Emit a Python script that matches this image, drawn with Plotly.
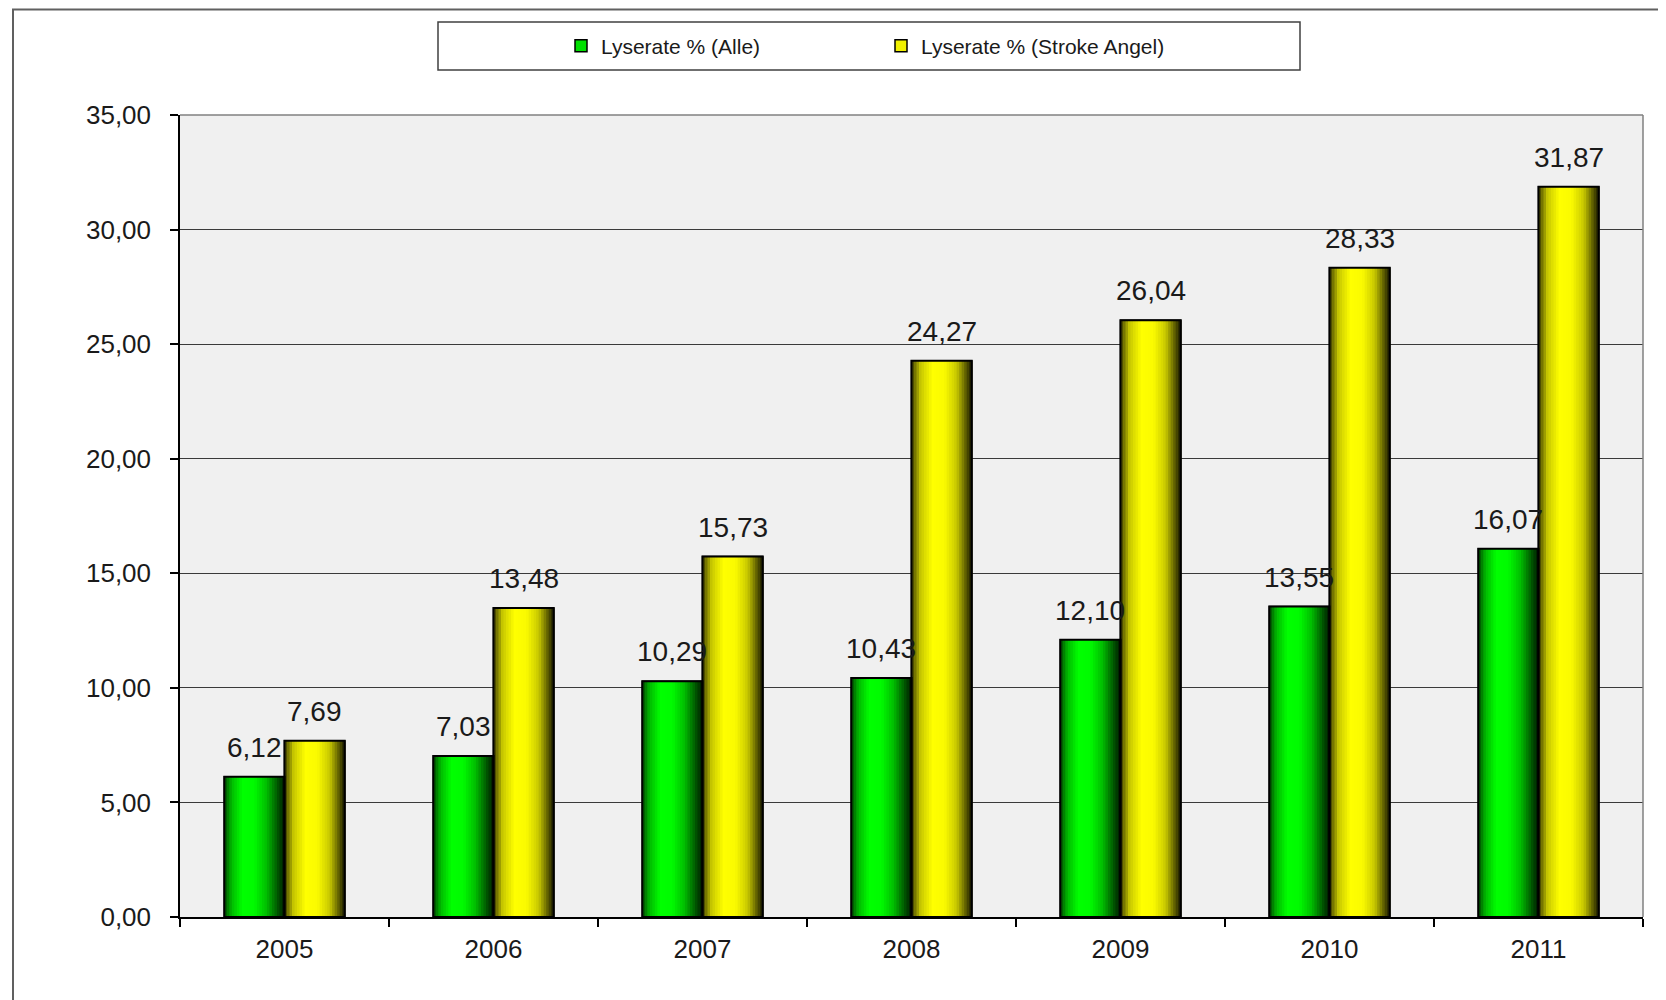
import plotly.graph_objects as go

years = ["2005", "2006", "2007", "2008", "2009", "2010", "2011"]
alle = [6.12, 7.03, 10.29, 10.43, 12.10, 13.55, 16.07]
stroke_angel = [7.69, 13.48, 15.73, 24.27, 26.04, 28.33, 31.87]

name_alle = "Lyserate % (Alle)"
name_sa = "Lyserate % (Stroke Angel)"

OFF = 8  # page body margin
W, H = 1666 - OFF, 1000 - OFF
# plot area in screen pixels: x 180..1643, y 115..917
SL, SR, ST, SB = 180, 1643, 115, 917
L, T = SL - OFF, ST - OFF
R, B = W - (SR - OFF), H - (SB - OFF)
PW, PH = SR - SL, SB - ST


def px_x(p):
    return (p - SL) / PW


def px_y(p):
    return (SB - p) / PH


def interp(stops, t):
    for (t0, c0), (t1, c1) in zip(stops, stops[1:]):
        if t0 <= t <= t1:
            f = (t - t0) / (t1 - t0) if t1 > t0 else 0
            c = [round(a + (b - a) * f) for a, b in zip(c0, c1)]
            return "rgb(%d,%d,%d)" % tuple(c)
    return "rgb(%d,%d,%d)" % tuple(stops[-1][1])


green_stops = [(0.0, (0, 70, 0)), (0.12, (0, 185, 0)), (0.3, (0, 255, 0)),
               (0.5, (0, 250, 0)), (0.7, (0, 190, 0)), (0.87, (0, 95, 0)), (1.0, (0, 25, 0))]
yellow_stops = [(0.0, (60, 60, 0)), (0.15, (200, 200, 0)), (0.35, (255, 255, 0)),
                (0.55, (250, 250, 0)), (0.75, (200, 200, 0)), (0.9, (95, 95, 0)), (1.0, (25, 25, 0))]

bw = 0.288
bar_px = bw * PW / len(years)
series = [
    (name_alle, alle, -bw, green_stops, "#00E000"),
    (name_sa, stroke_angel, 0.0, yellow_stops, "#F0F000"),
]

fig = go.Figure()
N = 24
for name, vals, off, stops, legcol in series:
    # legend proxy / base bar
    fig.add_trace(go.Bar(x=years, y=vals, name=name, offset=off, width=bw,
                         marker=dict(color=legcol, line=dict(color="black", width=1.5)),
                         showlegend=True, hoverinfo="skip"))
    # gradient strips
    for i in range(N):
        t = (i + 0.5) / N
        fig.add_trace(go.Bar(x=years, y=vals, offset=off + i * bw / N, width=bw / N * 1.3,
                             marker=dict(color=interp(stops, t), line=dict(width=0)),
                             showlegend=False, hoverinfo="skip"))

for name, vals, off, stops, legcol in series:
    # outline
    fig.add_trace(go.Bar(x=years, y=vals, name=name, offset=off, width=bw,
                         marker=dict(color="rgba(0,0,0,0)", line=dict(color="black", width=2)),
                         hovertemplate="%{x}: %{y:.2f}<extra>" + name + "</extra>",
                         showlegend=False))
    # value labels
    side = -1 if off < 0 else 1
    for idx, v in enumerate(vals):
        fig.add_annotation(x=idx, y=v, xref="x", yref="y", text=f"{v:.2f}".replace(".", ","),
                           showarrow=False, xanchor="center", yanchor="bottom",
                           xshift=side * bar_px / 2, yshift=12,
                           font=dict(size=28, color="#1a1a1a"))

fig.update_layout(
    width=W, height=H,
    margin=dict(l=L, r=R, t=T, b=B),
    barmode="overlay",
    separators=",.",
    paper_bgcolor="white",
    plot_bgcolor="#F0F0F0",
    font=dict(family="Liberation Sans, Arial, sans-serif", color="#1a1a1a"),
    showlegend=True,
    legend=dict(orientation="h", x=px_x(561), xanchor="left", y=px_y(46), yanchor="middle",
                font=dict(size=21, color="#1a1a1a"), bgcolor="rgba(0,0,0,0)",
                entrywidth=275, entrywidthmode="pixels", itemwidth=30,
                traceorder="normal"),
    xaxis=dict(type="category", range=[-0.5, 6.5], showgrid=False,
               showline=True, linecolor="black", linewidth=1.5,
               ticks="outside", tickson="boundaries", ticklen=8, tickcolor="black", tickwidth=1.5,
               tickfont=dict(size=26, color="#1a1a1a"), ticklabelstandoff=8),
    yaxis=dict(range=[0, 35], dtick=5, tickformat=".2f",
               showgrid=True, gridcolor="#3a3a3a", gridwidth=1, zeroline=False,
               showline=True, linecolor="black", linewidth=1.5,
               ticks="outside", ticklen=8, tickcolor="black", tickwidth=1.5,
               tickfont=dict(size=26, color="#1a1a1a"), ticklabelstandoff=14),
    bargap=0.42,
)

# plot-area top/right border
fig.add_shape(type="line", xref="paper", yref="paper", x0=0, x1=1, y0=1, y1=1,
              line=dict(color="#808080", width=1.5))
fig.add_shape(type="line", xref="paper", yref="paper", x0=1, x1=1, y0=0, y1=1,
              line=dict(color="#808080", width=1.5))
# legend box
fig.add_shape(type="rect", xref="paper", yref="paper",
              x0=px_x(438), x1=px_x(1300), y0=px_y(70), y1=px_y(22),
              line=dict(color="#404040", width=1.5), fillcolor="rgba(0,0,0,0)")
# outer chart border
fig.add_shape(type="rect", xref="paper", yref="paper",
              x0=px_x(13), x1=px_x(1700), y0=px_y(1040), y1=px_y(9.5),
              line=dict(color="#606060", width=2), fillcolor="rgba(0,0,0,0)")

fig.write_html("out.html")
